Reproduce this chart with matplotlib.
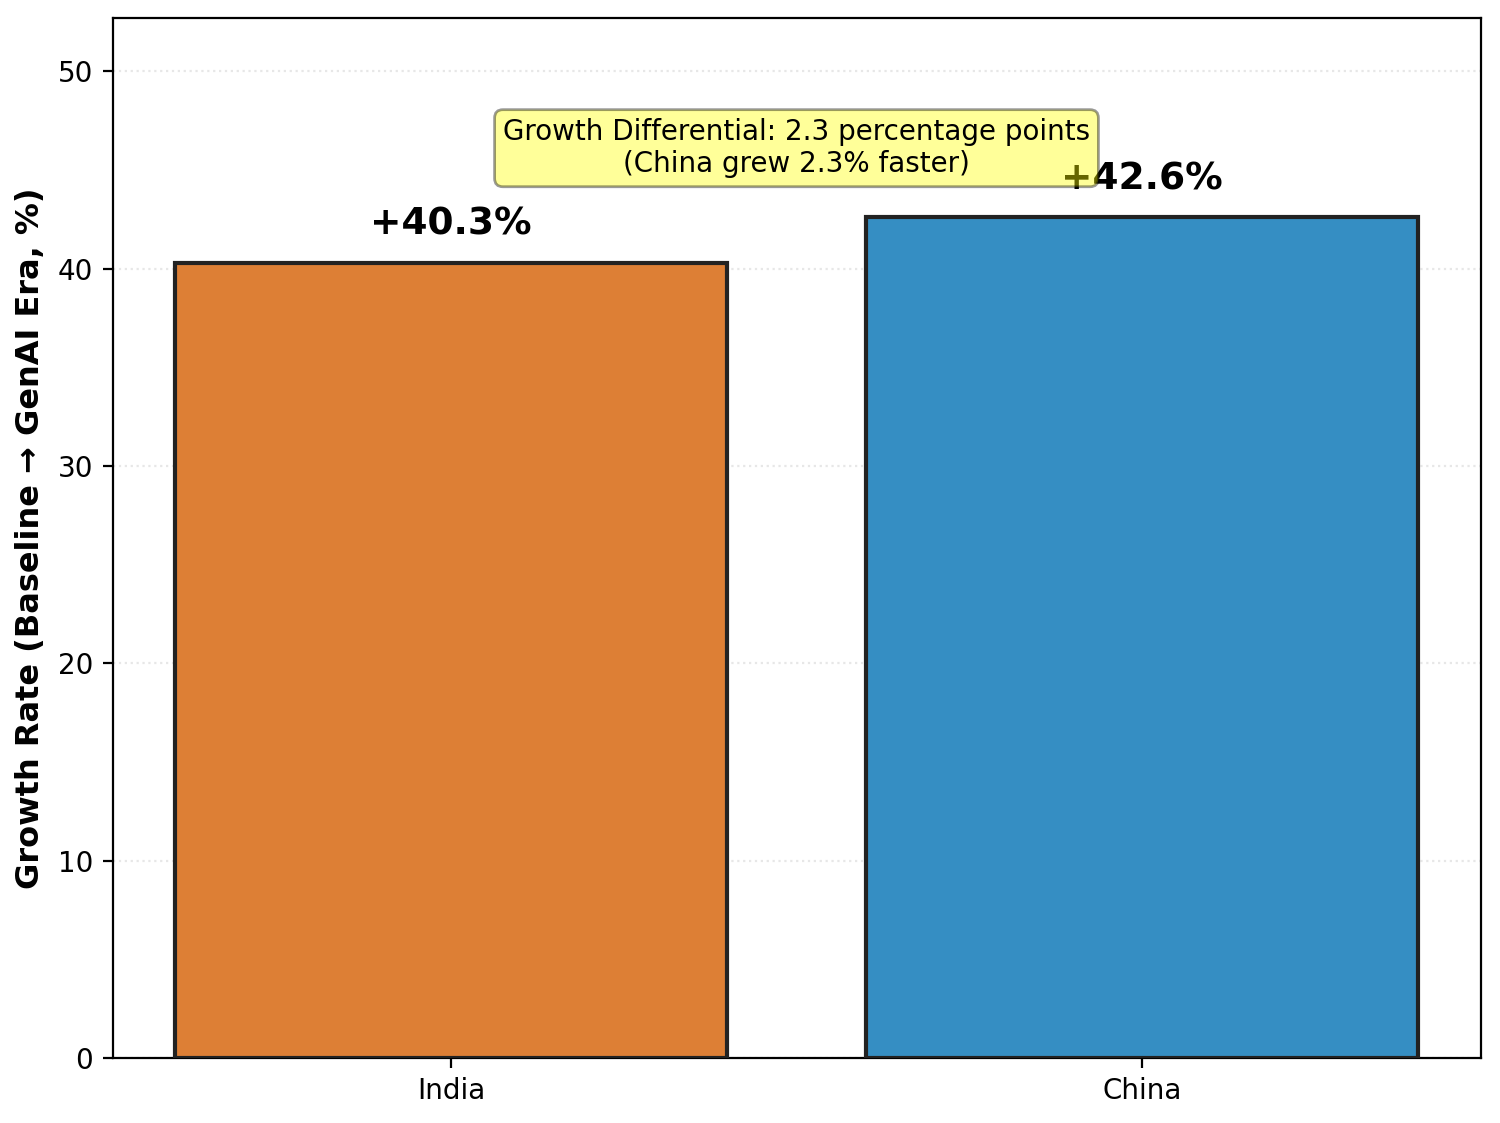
import matplotlib.pyplot as plt

countries = ["India", "China"]
growth = [40.3, 42.6]
colors = ["#DD7F35", "#358EC3"]

fig, ax = plt.subplots(figsize=(7.5, 5.615), dpi=200)
bars = ax.bar(countries, growth, color=colors, edgecolor="#222222", linewidth=1.5, width=0.8, zorder=3)
for b, v in zip(bars, growth):
    ax.text(b.get_x() + b.get_width() / 2, v + 1, f"+{v:.1f}%", ha="center", va="bottom",
            fontsize=13.5, fontweight="bold", zorder=4)
ax.set_ylim(0, 52.7)
ax.set_xlim(-0.49, 1.49)
ax.set_ylabel("Growth Rate (Baseline → GenAI Era, %)", fontsize=11.5, fontweight="bold")
ax.yaxis.grid(True, linestyle=":", alpha=0.3, zorder=0)
diff = growth[1] - growth[0]
ax.text(0.5, 46.1, f"Growth Differential: {diff:.1f} percentage points\n(China grew {diff:.1f}% faster)",
        ha="center", va="center", fontsize=10, zorder=5,
        bbox=dict(boxstyle="round,pad=0.3", facecolor="yellow", alpha=0.4, edgecolor="black"))
fig.subplots_adjust(left=0.075, right=0.987, top=0.984, bottom=0.058)
fig.savefig("out.png")
